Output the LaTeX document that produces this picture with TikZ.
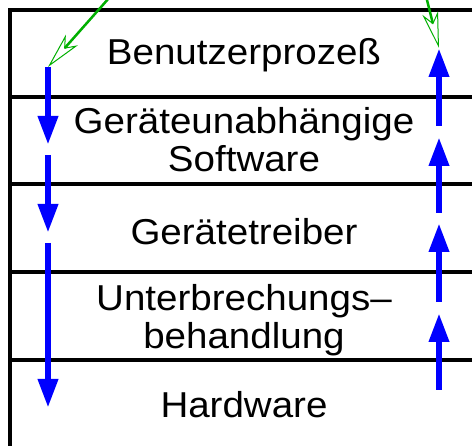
\documentclass[tikz,border=0pt]{standalone}
\usepackage{fontspec}
\setmainfont{Liberation Sans}
\usetikzlibrary{arrows.meta}
\definecolor{hintgreen}{RGB}{0,175,0}
\tikzset{
    rule/.style={line width=3.2pt},
    layer/.style={font=\fontsize{36}{38}\selectfont, xscale=1.07, align=center, inner sep=0pt},
    flow/.style={blue, line width=6.5pt, -{Triangle[length=29pt,width=19pt]}},
    hint/.style={hintgreen, line width=2.5pt,
        -{Stealth[open, length=36pt, width=16pt, inset=10pt, line width=1pt]}}
}
\begin{document}
\begin{tikzpicture}[x=1pt,y=-1pt]
    \useasboundingbox (0,0) rectangle (472,446);
    % Schichten
    \draw[rule] (10,446) -- (10,10) -- (472,10);
    \draw[rule] (10,97) -- (472,97);
    \draw[rule] (10,184) -- (472,184);
    \draw[rule] (10,272) -- (472,272);
    \draw[rule] (10,360) -- (472,360);
    \node[layer, anchor=base] (proc) at (244,65) {Benutzerprozeß};
    \node[layer, anchor=base] (indep) at (244,172) {Geräteunabhängige\\Software};
    \node[layer, anchor=base] (driver) at (244,245) {Gerätetreiber};
    \node[layer, anchor=base] (irq) at (244,349) {Unterbrechungs–\\behandlung};
    \node[layer, anchor=base] (hw) at (244,418) {Hardware};
    % Aufruf nach unten
    \coordinate (d0) at (48,67);
    \coordinate (d1) at (48,145);
    \coordinate (d2) at (48,155);
    \coordinate (d3) at (48,233);
    \coordinate (d4) at (48,243);
    \coordinate (d5) at (48,408);
    \draw[flow] (d0) -- (d1);
    \draw[flow] (d2) -- (d3);
    \draw[flow] (d4) -- (d5);
    % Rueckkehr nach oben
    \coordinate (u0) at (439,390);
    \coordinate (u1) at (439,313);
    \coordinate (u2) at (439,302);
    \coordinate (u3) at (439,223);
    \coordinate (u4) at (439,213);
    \coordinate (u5) at (439,137);
    \coordinate (u6) at (439,126);
    \coordinate (u7) at (439,48);
    \draw[flow] (u0) -- (u1);
    \draw[flow] (u2) -- (u3);
    \draw[flow] (u4) -- (u5);
    \draw[flow] (u6) -- (u7);
    % Ein- und Austritt
    \coordinate (callin) at (109,-2);
    \coordinate (callout) at (426,-4);
    \draw[hint] (callin) -- (d0);
    \draw[hint] (callout) -- (u7);
\end{tikzpicture}
\end{document}
